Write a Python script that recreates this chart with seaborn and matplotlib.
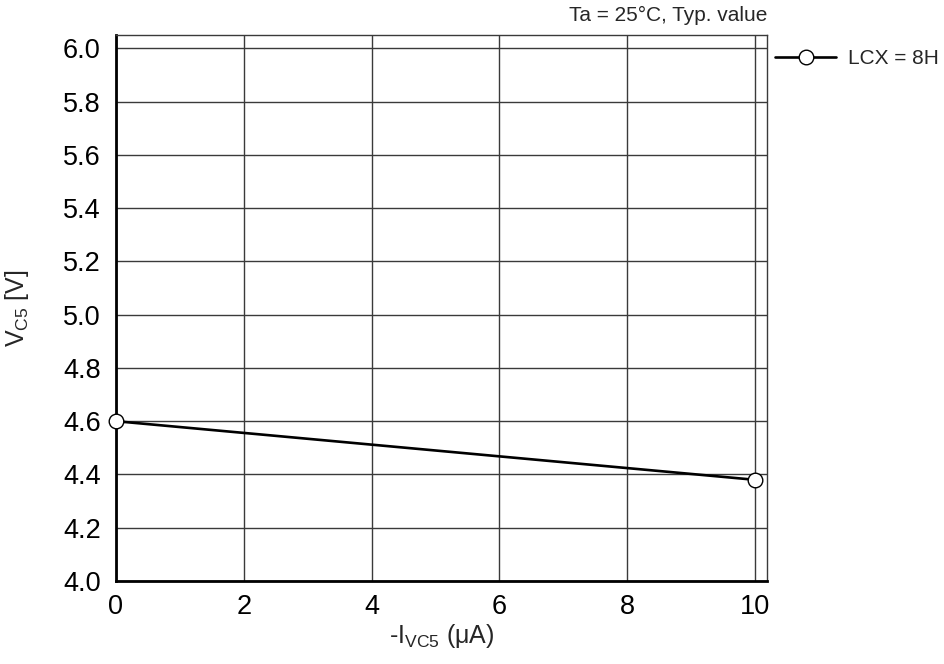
import matplotlib
matplotlib.use("Agg")
import matplotlib.pyplot as plt
import seaborn as sns
import pandas as pd

# Supply current vs. VC5 output voltage
current_ua = [0, 10]
vc5_volts = [4.60, 4.38]
series_name = "LCX = 8H"
x_ticks = [0, 2, 4, 6, 8, 10]
y_ticks = [4.0, 4.2, 4.4, 4.6, 4.8, 5.0, 5.2, 5.4, 5.6, 5.8, 6.0]

df = pd.DataFrame({"I": current_ua, "V": vc5_volts, "series": series_name})

sns.set_style("white")
plt.rcParams["font.family"] = ["Liberation Sans", "DejaVu Sans"]
plt.rcParams["mathtext.fontset"] = "custom"
plt.rcParams["mathtext.rm"] = "Liberation Sans"

fig = plt.figure(figsize=(9.45, 6.64), dpi=100)
ax = fig.add_axes([116 / 945, 1 - 581 / 664, (767 - 116) / 945, (581 - 35) / 664])

sns.lineplot(data=df, x="I", y="V", hue="series", palette=["black"], ax=ax,
             linewidth=1.9, marker="o", markersize=10.5, markerfacecolor="white",
             markeredgecolor="black", markeredgewidth=1.0, zorder=5, clip_on=False)

ax.set_xlim(0, 10.19)
ax.set_ylim(4.0, 6.05)
ax.set_xticks(x_ticks)
ax.set_yticks(y_ticks)
ax.set_xticklabels([str(t) for t in x_ticks])
ax.set_yticklabels([f"{t:.1f}" for t in y_ticks])
ax.tick_params(axis="both", length=0, labelsize=19.5, colors="black")
ax.tick_params(axis="x", pad=9)
ax.tick_params(axis="y", pad=11)

ax.grid(True, color="#3a3a3a", linewidth=1.0)
for side in ("left", "bottom"):
    ax.spines[side].set_color("black")
    ax.spines[side].set_linewidth(2.0)
for side in ("top", "right"):
    ax.spines[side].set_color("#3a3a3a")
    ax.spines[side].set_linewidth(1.0)

ax.set_xlabel(r"-I$_{\mathregular{VC5}}$ (μA)", fontsize=18)
ax.set_ylabel(r"V$_{\mathregular{C5}}$ [V]", fontsize=18)
ax.xaxis.set_label_coords(0.5, -0.076)
ax.yaxis.set_label_coords(-0.131, 0.5)

ax.text(1.0, 1.018, "Ta = 25°C, Typ. value", transform=ax.transAxes,
        ha="right", va="bottom", fontsize=15)

ax.legend(loc="upper left", bbox_to_anchor=(1.0, 0.989), frameon=False,
          fontsize=15, handlelength=2.9, borderaxespad=0.0, handletextpad=0.58)

fig.savefig("out.png", dpi=100)
